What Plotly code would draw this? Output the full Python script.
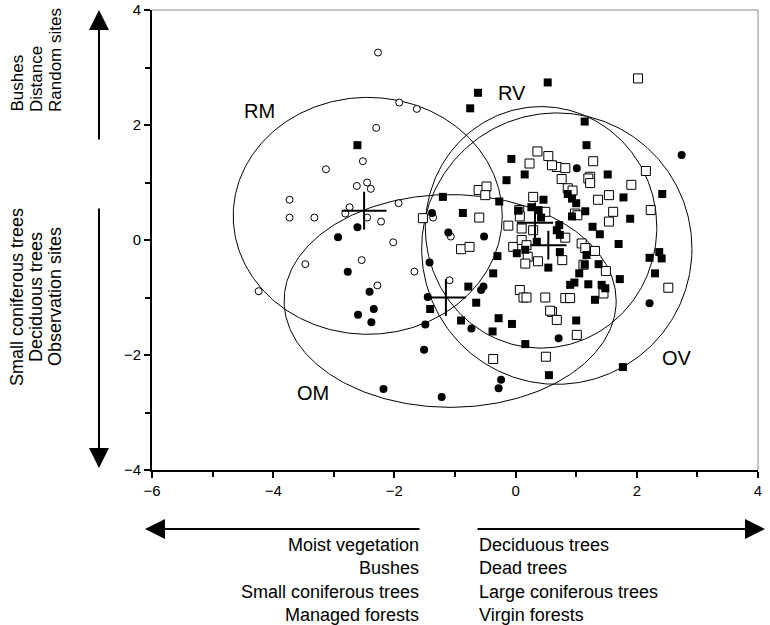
import numpy as np
import plotly.graph_objects as go

# ---------------- data ----------------
rm_x = [-2.27, -1.92, -1.63, -2.30, -2.52, -3.13, -2.62, -2.45, -2.39, -3.73, -3.73, -3.32, -2.74,
        -2.81, -2.45, -2.22, -1.93, -2.02, -1.36, -1.07, -3.47, -2.54, -1.67, -1.09, -4.24, -2.28]
rm_y = [3.26, 2.39, 2.28, 1.95, 1.37, 1.23, 0.94, 1.00, 0.89, 0.70, 0.39, 0.39, 0.57,
        0.46, 0.39, 0.32, 0.64, -0.04, 0.39, 0.06, -0.42, -0.35, -0.55, -0.70, -0.89, -0.79]

om_x = [-2.61, -2.93, -1.38, -1.11, -0.52, -1.42, -2.77, -2.41, -2.34, -2.60, -2.38, -1.45, -1.49,
        -1.51, -1.22, -2.18, -0.53, -0.57, -0.73, -0.24, -0.28, 0.71, 2.21, 2.74, 1.01]
om_y = [0.22, 0.05, 0.47, 0.13, 0.06, -0.39, -0.55, -0.90, -1.20, -1.30, -1.43, -0.99, -1.47,
        -1.91, -2.73, -2.59, -0.81, -0.87, -1.54, -2.43, -2.58, -1.71, -1.10, 1.48, 1.25]

ov_x = [-2.61, -1.20, -0.62, -0.75, 0.53, -0.07, 0.15, 1.14, 1.17, 1.52, -0.15, -0.27, 0.46, 0.26,
        0.38, 0.42, -0.87, 0.35, 0.02, 0.16, -0.30, 0.54, -0.37, -0.78, 1.78, 2.42, 0.93, 1.00,
        1.15, 0.93, 1.89, 0.72, 0.68, 0.73, 1.27, 1.39, 1.70, 1.17, 1.14, 0.73, 1.37, 1.05, 0.90,
        0.97, 1.20, 1.42, 1.48, 1.72, 2.21, 2.37, 2.41, 2.30, -1.41, -0.65, -0.90, -0.28, -0.06,
        -0.38, 0.16, 0.55, 1.31, 1.00, 1.77, 0.05, 0.86]
ov_y = [1.65, 0.75, 2.56, 2.29, 2.74, 1.41, 1.14, 2.06, 1.65, 1.14, 1.04, 0.67, 0.70, 0.57,
        0.52, 0.39, 0.47, -0.03, -0.23, -0.17, -0.28, -0.48, -0.58, -0.81, 0.74, 0.80, 0.72, 0.64,
        0.50, 0.41, 0.37, 0.26, 0.17, 0.09, 0.23, 0.10, -0.07, -0.26, -0.43, -0.21, -0.42, -0.58, -0.78,
        -0.74, -0.77, -0.78, -0.84, -0.68, -0.31, -0.21, -0.32, -0.58, -1.20, -1.09, -1.40, -1.36, -1.46,
        -1.59, -1.81, -2.35, -1.04, -1.40, -2.21, 0.51, 0.80]

rv_x = [-1.53, 2.02, 1.28, 2.15, 0.68, 0.82, 1.23, 0.36, 0.23, 0.54, 0.60, -0.61, -0.48, -0.50,
        0.29, 0.06, 0.07, 0.49, -0.60, -0.12, 0.10, 0.29, -0.90, -0.76, -0.04, 0.10, 0.18, 0.20,
        0.16, 0.37, 0.07, 0.76, 1.20, 1.23, 1.91, 0.86, 0.94, 1.36, 1.54, 0.98, 1.02, 1.61, 1.54,
        2.23, 0.82, 1.09, 1.15, 1.31, 0.77, 1.49, 1.12, 2.52, -0.37, 0.50, 0.13, 0.18, 0.49, 0.60,
        0.82, 0.90, 1.45, 1.01, 0.68, 0.57]
rv_y = [0.38, 2.81, 1.37, 1.20, 1.27, 1.25, 1.10, 1.54, 1.33, 1.46, 1.30, 0.87, 0.93, 0.78,
        0.75, 0.52, 0.41, 0.49, 0.39, 0.25, 0.20, 0.17, -0.16, -0.12, -0.12, 0.00, -0.09, -0.29,
        -0.41, -0.37, -0.87, 1.06, 1.07, 0.99, 0.96, 0.90, 0.86, 0.70, 0.78, 0.46, 0.43, 0.49, 0.32,
        0.52, 0.04, -0.06, -0.14, -0.19, -0.35, -0.54, -0.43, -0.83, -2.07, -2.03, -1.00, -1.00, -1.00, -1.25,
        -1.01, -1.01, -0.93, -1.65, -1.39, -1.23]

# ellipses (groups RM, OM, RV, OV)
ell_names = ["RM", "OM", "RV", "OV"]
ell_cx = [-2.44, -1.08, 0.42, 0.68]
ell_cy = [0.42, -1.06, 0.22, -0.15]
ell_rx = [2.22, 2.74, 1.91, 2.23]
ell_ry = [2.06, 1.85, 2.10, 2.36]

# group centroids (crosses)
cross_x = [-2.50, -1.15, 0.32, 0.54]
cross_y = [0.51, -1.00, 0.30, -0.09]
cross_dx = [0.37, 0.33, 0.30, 0.30]
cross_dy = [0.33, 0.32, 0.35, 0.25]

# group labels
lab_text = ["RM", "OM", "RV", "OV"]
lab_x = [-4.22, -3.35, -0.06, 2.66]
lab_y = [2.24, -2.66, 2.55, -2.06]

x_ticks = [-6, -4, -2, 0, 2, 4]
y_ticks = [-4, -2, 0, 2, 4]

FONT = "Liberation Sans, Arial, Helvetica, sans-serif"

fig = go.Figure()

# ellipses
t = np.linspace(0, 2 * np.pi, 361)
for cx, cy, rx, ry in zip(ell_cx, ell_cy, ell_rx, ell_ry):
    fig.add_trace(go.Scatter(x=cx + rx * np.cos(t), y=cy + ry * np.sin(t), mode="lines",
                             line=dict(color="black", width=1), hoverinfo="skip", showlegend=False))

# points
fig.add_trace(go.Scatter(x=rv_x, y=rv_y, mode="markers", showlegend=False,
                         marker=dict(symbol="square", size=9, color="white", line=dict(color="black", width=1))))
fig.add_trace(go.Scatter(x=ov_x, y=ov_y, mode="markers", showlegend=False,
                         marker=dict(symbol="square", size=8, color="black", line=dict(color="black", width=0))))
fig.add_trace(go.Scatter(x=rm_x, y=rm_y, mode="markers", showlegend=False,
                         marker=dict(symbol="circle", size=7, color="white", line=dict(color="black", width=1))))
fig.add_trace(go.Scatter(x=om_x, y=om_y, mode="markers", showlegend=False,
                         marker=dict(symbol="circle", size=8, color="black", line=dict(color="black", width=0))))

# centroid crosses
cxs, cys = [], []
for x0, y0, dx, dy in zip(cross_x, cross_y, cross_dx, cross_dy):
    cxs += [x0 - dx, x0 + dx, None, x0, x0, None]
    cys += [y0, y0, None, y0 - dy, y0 + dy, None]
fig.add_trace(go.Scatter(x=cxs, y=cys, mode="lines", line=dict(color="black", width=2),
                         hoverinfo="skip", showlegend=False))

annotations = []
for txt, x, y in zip(lab_text, lab_x, lab_y):
    annotations.append(dict(x=x, y=y, xref="x", yref="y", text=txt, showarrow=False,
                            font=dict(family=FONT, size=20, color="black")))

# plot area in pixels: x 152..758, y 10..470
def px_x(p):
    return (p - 152) / 606


def px_y(p):
    return (470 - p) / 460


# arrows
arrow_common = dict(xref="paper", yref="paper", axref="pixel", ayref="pixel", text="",
                    showarrow=True, arrowhead=2, arrowsize=2, arrowwidth=2, arrowcolor="black")
annotations += [
    dict(x=px_x(99), y=px_y(10), ax=0, ay=131, **arrow_common),
    dict(x=px_x(99), y=px_y(468), ax=0, ay=-261, **arrow_common),
    dict(x=px_x(145), y=px_y(529), ax=276, ay=0, **arrow_common),
    dict(x=px_x(765), y=px_y(529), ax=-289, ay=0, **arrow_common),
]

# left rotated texts
upper = ["Bushes", "Distance", "Random sites"]
lower = ["Small coniferous trees", "Deciduous trees", "Observation sites"]
col_px = [17, 36, 55]
for txt, px in zip(upper, col_px):
    annotations.append(dict(x=px_x(px), y=px_y(114), xref="paper", yref="paper",
                            text=txt, showarrow=False, textangle=-90, xanchor="center", yanchor="bottom",
                            font=dict(family=FONT, size=17, color="black")))
for txt, px in zip(lower, col_px):
    annotations.append(dict(x=px_x(px), y=px_y(297), xref="paper", yref="paper",
                            text=txt, showarrow=False, textangle=-90, xanchor="center", yanchor="middle",
                            font=dict(family=FONT, size=18, color="black")))

# bottom texts
left_lines = ["Moist vegetation", "Bushes", "Small coniferous trees", "Managed forests"]
right_lines = ["Deciduous trees", "Dead trees", "Large coniferous trees", "Virgin forests"]
annotations.append(dict(x=px_x(421), y=px_y(533), xref="paper", yref="paper",
                        text="<br>".join(left_lines), showarrow=False, xanchor="right", yanchor="top",
                        align="right", font=dict(family=FONT, size=18, color="black")))
annotations.append(dict(x=px_x(477), y=px_y(533), xref="paper", yref="paper",
                        text="<br>".join(right_lines), showarrow=False, xanchor="left", yanchor="top",
                        align="left", font=dict(family=FONT, size=18, color="black")))

axis_common = dict(showgrid=False, zeroline=False, showline=True, linecolor="black", linewidth=2,
                   ticks="outside", ticklen=6, tickwidth=1.5, tickcolor="black", automargin=False,
                   tickfont=dict(family=FONT, size=15, color="black"),
                   minor=dict(ticks="outside", ticklen=5, tickwidth=1.5, tickcolor="black", dtick=1))

fig.update_layout(
    width=770, height=625,
    margin=dict(l=152, r=12, t=10, b=155, autoexpand=False),
    paper_bgcolor="white", plot_bgcolor="white",
    showlegend=False,
    xaxis=dict(range=[-6, 4], tickvals=x_ticks, ticktext=[f"{v}".replace("-", "\u2212") for v in x_ticks],
               **axis_common),
    yaxis=dict(range=[-4, 4], tickvals=y_ticks, ticktext=[f"{v}".replace("-", "\u2212") for v in y_ticks],
               **axis_common),
    annotations=annotations,
    shapes=[
        dict(type="line", xref="paper", yref="paper", x0=0, x1=1, y0=1, y1=1,
             line=dict(color="#888888", width=1)),
        dict(type="line", xref="paper", yref="paper", x0=1, x1=1, y0=0, y1=1,
             line=dict(color="#888888", width=1)),
    ],
)

fig.write_html("out.html", config={"displayModeBar": False},
               post_script="document.body.style.margin='0px';document.body.style.overflow='hidden';")
